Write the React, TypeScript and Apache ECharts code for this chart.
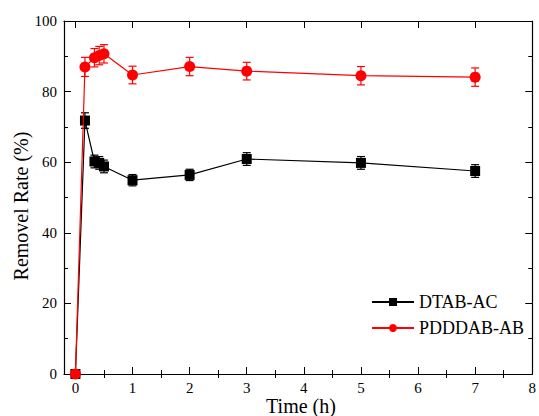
import React, { useEffect, useRef } from "react";
import * as echarts from "echarts";

const times = [0, 0.167, 0.333, 0.417, 0.5, 1, 2, 3, 5, 7];
const dtabValues = [0, 71.8, 60.2, 59.8, 58.8, 54.9, 56.4, 60.9, 59.8, 57.5];
const dtabErrors = [0, 2.2, 1.8, 1.8, 1.8, 1.6, 1.6, 1.8, 1.8, 1.8];
const pdValues = [0, 87.0, 89.6, 90.2, 90.7, 84.7, 87.1, 85.8, 84.5, 84.1];
const pdErrors = [0, 2.7, 2.6, 2.6, 2.6, 2.5, 2.6, 2.5, 2.6, 2.6];
const xMajorTicks = [0, 1, 2, 3, 4, 5, 6, 7, 8];
const xMinorTicks = [0.5, 1.5, 2.5, 3.5, 4.5, 5.5, 6.5, 7.5];
const seriesNames = ["DTAB-AC", "PDDDAB-AB"];
const xTitle = "Time (h)";
const yTitle = "Removel Rate (%)";

const FONT = "'Liberation Serif', 'DejaVu Serif', serif";

function errorSeries(values: number[], errors: number[], color: string) {
  const data = times.map((t, i) => [t, values[i] - errors[i], values[i] + errors[i]]);
  return {
    type: "custom",
    xAxisIndex: 0,
    yAxisIndex: 0,
    silent: true,
    z: 1,
    data: data.filter((_, i) => errors[i] > 0),
    renderItem: (params: any, api: any) => {
      const x = api.value(0);
      const lo = api.coord([x, api.value(1)]);
      const hi = api.coord([x, api.value(2)]);
      const w = 4;
      const style = { stroke: color, lineWidth: 1.2 };
      return {
        type: "group",
        children: [
          { type: "line", shape: { x1: lo[0], y1: lo[1], x2: hi[0], y2: hi[1] }, style },
          { type: "line", shape: { x1: lo[0] - w, y1: lo[1], x2: lo[0] + w, y2: lo[1] }, style },
          { type: "line", shape: { x1: hi[0] - w, y1: hi[1], x2: hi[0] + w, y2: hi[1] }, style },
        ],
      };
    },
  };
}

export default function App() {
  const ref = useRef<HTMLDivElement>(null);
  useEffect(() => {
    if (!ref.current) return;
    const chart = echarts.init(ref.current, null, { renderer: "svg" });
    const axisLine = { show: true, onZero: false, lineStyle: { color: "#000", width: 1.2 } };
    const xCommon = { type: "value", min: -0.2, max: 8, splitLine: { show: false } };
    chart.setOption({
      animation: false,
      backgroundColor: "#fff",
      textStyle: { fontFamily: FONT },
      grid: { left: 64, right: 2, top: 21, bottom: 42, containLabel: false },
      graphic: [
        {
          type: "text",
          x: 301,
          y: 406,
          style: { text: xTitle, fontFamily: FONT, fontSize: 20, fill: "#000", align: "center", verticalAlign: "middle" },
        },
        {
          type: "text",
          x: 21,
          y: 206,
          rotation: Math.PI / 2,
          style: { text: yTitle, fontFamily: FONT, fontSize: 20, fill: "#000", align: "center", verticalAlign: "middle" },
        },
      ],
      legend: {
        orient: "vertical",
        left: 366,
        top: 288,
        itemWidth: 42,
        itemHeight: 10,
        itemGap: 8,
        textStyle: { fontFamily: FONT, fontSize: 18, color: "#000" },
        data: seriesNames,
      },
      xAxis: [
        {
          ...xCommon,
          position: "bottom",
          axisLine,
          axisTick: { show: true, inside: true, length: 7, customValues: xMajorTicks, lineStyle: { color: "#000" } },
          axisLabel: { show: true, customValues: xMajorTicks, fontFamily: FONT, fontSize: 15, color: "#000", margin: 6 },
        },
        {
          ...xCommon,
          position: "bottom",
          axisLine: { show: false },
          axisTick: { show: true, inside: true, length: 4, customValues: xMinorTicks, lineStyle: { color: "#000" } },
          axisLabel: { show: false },
        },
        {
          ...xCommon,
          position: "top",
          axisLine,
          axisTick: { show: true, inside: true, length: 7, customValues: xMajorTicks, lineStyle: { color: "#000" } },
          axisLabel: { show: false },
        },
        {
          ...xCommon,
          position: "top",
          axisLine: { show: false },
          axisTick: { show: true, inside: true, length: 4, customValues: xMinorTicks, lineStyle: { color: "#000" } },
          axisLabel: { show: false },
        },
      ],
      yAxis: [
        {
          type: "value",
          min: 0,
          max: 100,
          interval: 20,
          position: "left",
          axisLine,
          axisTick: { show: true, inside: true, length: 7, lineStyle: { color: "#000" } },
          minorTick: { show: true, splitNumber: 2, length: 4, lineStyle: { color: "#000" } },
          axisLabel: { fontFamily: FONT, fontSize: 15, color: "#000", margin: 7 },
          splitLine: { show: false },
        },
        {
          type: "value",
          min: 0,
          max: 100,
          interval: 20,
          position: "right",
          axisLine,
          axisTick: { show: true, inside: true, length: 7, lineStyle: { color: "#000" } },
          minorTick: { show: true, splitNumber: 2, length: 4, lineStyle: { color: "#000" } },
          axisLabel: { show: false },
          splitLine: { show: false },
        },
      ],
      series: [
        errorSeries(dtabValues, dtabErrors, "#000"),
        errorSeries(pdValues, pdErrors, "#ff0000"),
        {
          name: seriesNames[0],
          type: "line",
          xAxisIndex: 0,
          yAxisIndex: 0,
          data: times.map((t, i) => [t, dtabValues[i]]),
          symbol: "rect",
          symbolSize: 10,
          itemStyle: { color: "#000" },
          lineStyle: { color: "#000", width: 1.2 },
          z: 3,
        },
        {
          name: seriesNames[1],
          type: "line",
          xAxisIndex: 0,
          yAxisIndex: 0,
          data: times.map((t, i) => [t, pdValues[i]]),
          symbol: "circle",
          symbolSize: 11,
          itemStyle: { color: "#ff0000" },
          lineStyle: { color: "#ff0000", width: 1.2 },
          z: 4,
        },
      ],
    });
    return () => chart.dispose();
  }, []);
  return <div ref={ref} style={{ width: 539, height: 416, position: "absolute", left: 0, top: 0 }} />;
}
